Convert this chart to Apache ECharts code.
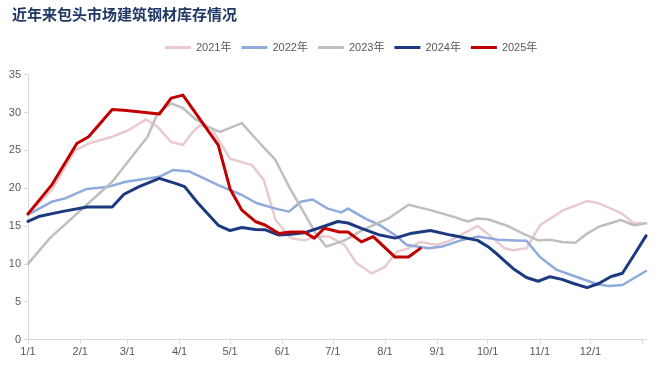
<!DOCTYPE html>
<html>
<head>
<meta charset="utf-8">
<script src="https://cdn.jsdelivr.net/npm/echarts@6/dist/echarts.min.js"></script>
<style>
html,body{margin:0;padding:0;background:#fff;}
#chart{width:660px;height:371px;}
</style>
</head>
<body>
<div id="chart"></div>
<script>
// x = day of year, y = inventory (万吨)
const monthStarts = [0,31,59,90,120,151,181,212,243,273,304,334];
const monthLabels = ['1/1','2/1','3/1','4/1','5/1','6/1','7/1','8/1','9/1','10/1','11/1','12/1'];
const yTicks = [0,5,10,15,20,25,30,35];
const seriesNames = ['2021年','2022年','2023年','2024年','2025年'];

const s2021 = [[0,16.6],[14,19.75],[28,25.0],[36,25.9],[50,26.8],[60,27.7],[70,29.1],[77,28.1],[85,26.1],[92,25.7],[97,27.2],[102,28.3],[109,27.9],[120,23.9],[133,23.05],[140,21.1],[147,15.8],[156,13.4],[164,13.1],[171,13.6],[179,13.6],[188,12.5],[195,10.1],[204,8.75],[212,9.6],[219,11.6],[226,12.05],[233,12.9],[243,12.5],[251,13.1],[267,15.0],[275,13.6],[283,12.05],[288,11.8],[296,12.05],[304,15.1],[318,17.1],[332,18.3],[339,18.0],[352,16.75],[360,15.35],[367,15.35]];
const s2022 = [[0,16.5],[14,18.2],[22,18.65],[35,19.9],[48,20.2],[58,20.85],[78,21.5],[86,22.4],[96,22.2],[113,20.4],[127,19.1],[136,18.0],[147,17.3],[155,16.9],[162,18.2],[169,18.5],[178,17.3],[186,16.8],[190,17.3],[201,15.9],[209,15.1],[218,13.8],[225,12.5],[238,12.05],[246,12.3],[257,13.1],[267,13.6],[279,13.2],[290,13.1],[296,13.05],[304,10.9],[314,9.2],[328,8.1],[338,7.3],[345,7.07],[353,7.2],[367,9.05]];
const s2023 = [[0,10.0],[13,13.4],[50,20.85],[71,26.8],[77,29.9],[85,31.2],[92,30.6],[99,29.2],[107,28.1],[114,27.45],[127,28.6],[135,26.6],[147,23.7],[155,20.2],[163,17.1],[171,14.0],[177,12.3],[180,12.5],[188,13.1],[199,14.5],[214,16.0],[226,17.8],[239,17.1],[253,16.2],[261,15.6],[267,16.0],[273,15.9],[285,15.0],[294,14.0],[303,13.1],[310,13.2],[317,12.9],[325,12.8],[332,14.0],[339,14.9],[352,15.8],[360,15.1],[367,15.35]];
const s2024 = [[0,15.6],[7,16.3],[20,16.9],[35,17.5],[50,17.5],[57,19.2],[66,20.2],[78,21.3],[88,20.6],[93,20.2],[101,18.0],[113,15.1],[120,14.4],[127,14.8],[135,14.55],[141,14.5],[149,13.8],[156,13.9],[164,14.1],[175,14.9],[184,15.6],[190,15.4],[198,14.7],[209,13.8],[218,13.4],[227,14.0],[239,14.4],[251,13.8],[267,13.1],[273,12.3],[279,11.2],[288,9.4],[296,8.2],[303,7.7],[310,8.3],[317,7.95],[324,7.4],[332,6.85],[339,7.4],[346,8.3],[353,8.75],[360,11.2],[367,13.7]];
const s2025 = [[0,16.6],[14,20.4],[29,25.9],[36,26.8],[50,30.4],[57,30.3],[78,29.8],[85,31.9],[92,32.3],[113,25.7],[120,19.9],[127,17.1],[135,15.6],[141,15.1],[149,14.0],[156,14.2],[164,14.2],[170,13.4],[176,14.7],[185,14.2],[190,14.2],[198,12.9],[205,13.6],[218,10.9],[226,10.9],[233,12.05]];

const colors = ['#E8CACF','#8FAADC','#BFBFBF','#1D3A80','#C00000'];
const widths = [2.5,2.5,2.5,3,3];
const allData = [s2021,s2022,s2023,s2024,s2025];

const chart = echarts.init(document.getElementById('chart'), null, {renderer:'canvas'});
chart.setOption({
  animation:false,
  backgroundColor:'#fff',
  title:{
    text:'近年来包头市场建筑钢材库存情况',
    left:7, top:2,
    textStyle:{fontFamily:'Noto Sans CJK SC',fontSize:15,fontWeight:'bold',color:'#1F3864'}
  },
  legend:{
    data:seriesNames,
    top:37, left:160,
    itemWidth:26, itemHeight:3, itemGap:10,
    icon:'rect',
    textStyle:{fontFamily:'Liberation Sans, Noto Sans CJK SC',fontSize:11,color:'#595959'}
  },
  grid:{left:28,right:14,top:74.7,bottom:31.5,containLabel:false},
  xAxis:{
    type:'value', min:0, max:367,
    axisLine:{show:true,lineStyle:{color:'#D9D9D9',width:1}},
    axisTick:{show:true,customValues:monthStarts.concat([365]),length:4,lineStyle:{color:'#D9D9D9'}},
    axisLabel:{
      customValues:monthStarts,
      formatter:function(v){const i=monthStarts.indexOf(Math.round(v));return i>=0?monthLabels[i]:'';},
      color:'#595959',fontFamily:'Liberation Sans',fontSize:11,margin:7
    },
    splitLine:{show:false}
  },
  yAxis:{
    type:'value', min:0, max:35, interval:5,
    axisLine:{show:true,lineStyle:{color:'#D9D9D9',width:1}},
    axisTick:{show:true,length:4,lineStyle:{color:'#D9D9D9'}},
    axisLabel:{color:'#595959',fontFamily:'Liberation Sans',fontSize:11,margin:7,
      customValues:yTicks},
    splitLine:{show:false}
  },
  series: allData.map(function(d,i){
    return {
      name:seriesNames[i], type:'line', data:d,
      showSymbol:false, symbol:'none', smooth:false,
      lineStyle:{color:colors[i],width:widths[i],join:'round',cap:'round'},
      itemStyle:{color:colors[i]},
      z:2+i
    };
  })
});
</script>
</body>
</html>
